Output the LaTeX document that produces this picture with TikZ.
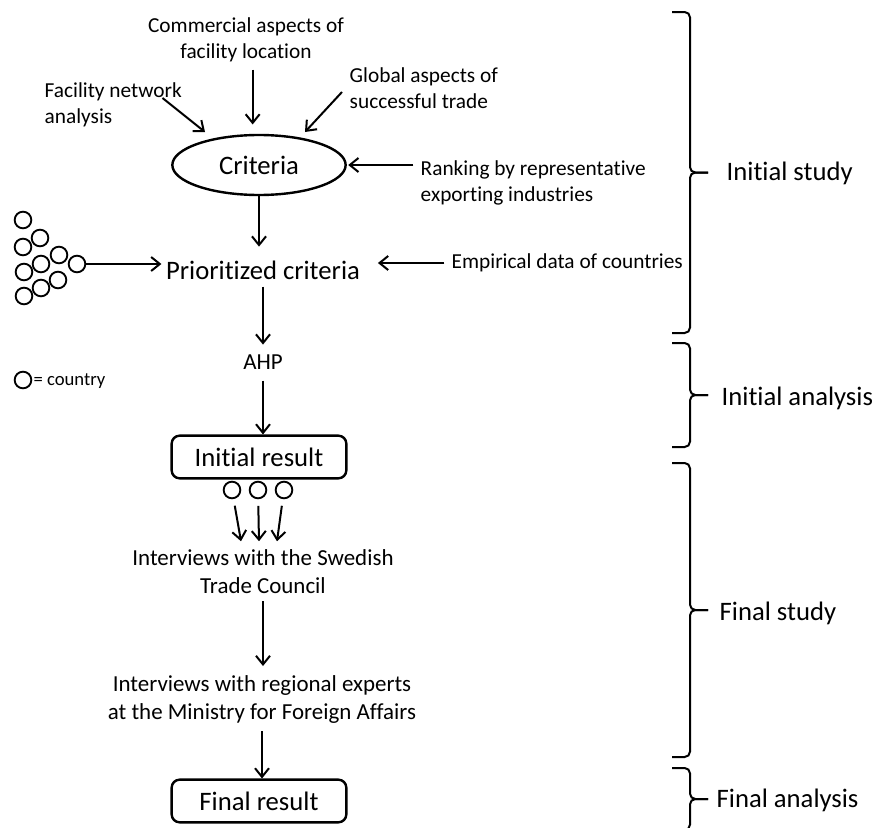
\documentclass[tikz,border=0pt]{standalone}
\usepackage{fontspec}
\setmainfont{Carlito}[Ligatures=NoCommon]
\usetikzlibrary{positioning, calc, shapes.geometric, arrows.meta}

\tikzset{
  arr/.style={line width=1.5pt, -{Straight Barb[length=6.5pt,width=10.5pt,line width=1.5pt]}},
  bigtext/.style={font=\fontsize{20}{24}\selectfont},
  midtext/.style={font=\fontsize{17.2}{21}\selectfont, align=center},
  smalltext/.style={font=\fontsize{16}{19.8}\selectfont, align=left},
  resultbox/.style={draw, line width=1.8pt, rounded corners=6pt, minimum width=131pt, minimum height=32pt, bigtext},
  country/.style={circle, draw, line width=1.4pt, minimum size=12.5pt, inner sep=0pt},
  phase/.style={line width=1.5pt, rounded corners=4pt},
  phaselabel/.style={anchor=west, bigtext},
}

\begin{document}
\begin{tikzpicture}[x=0.75pt, y=-0.75pt]
  \useasboundingbox (0,0) rectangle (882,828);

  % criteria and where they come from
  \node[smalltext, align=center] (comm) at (246,40) {Commercial aspects of\\facility location};
  \node[smalltext, anchor=west] (fac) at (40,105) {Facility network\\analysis};
  \node[smalltext, anchor=west] (glob) at (345,88) {Global aspects of\\successful trade};
  \node[ellipse, draw, line width=1.8pt, minimum width=130pt, minimum height=45pt, inner sep=0pt, bigtext] (crit) at (259,165) {Criteria};
  \node[smalltext, anchor=west] (rank) at (416,183) {Ranking by representative\\exporting industries};

  \draw[arr, shorten <=2pt, shorten >=7pt] ([xshift=5pt]comm.south) -- ([xshift=5pt]comm.south |- crit.north);
  \draw[arr] ($(fac.east)+(-24,-7)$) -- ($(crit.center)+(-54,-33)$);
  \draw[arr] ($(glob.west)+(-3,4)$) -- ($(crit.center)+(46,-33)$);
  \draw[arr, shorten <=2pt, shorten >=1pt] (rank.west |- crit.east) -- (crit.east);

  % prioritized criteria
  \node[bigtext] (prio) at (263,270) {Prioritized criteria};
  \node[smalltext, anchor=west] (emp) at (447,263) {Empirical data of countries};
  \foreach \x/\y [count=\i] in {23/220, 40/238, 23/247, 59/255, 41/264, 77/264, 24/272, 58/280, 41/288, 24/296}
    \node[country] (k\i) at (\x,\y) {};

  \draw[arr, shorten >=7pt] (crit.south) -- (crit.south |- prio.north);
  \draw[arr] (k6.east) -- (k6.east -| prio.west);
  \draw[arr, shorten <=2pt, shorten >=10pt] (emp.west) -- (emp.west -| prio.east);

  % legend
  \node[country] (leg) at (23,380) {};
  \node[anchor=west, inner sep=0pt, font=\fontsize{14}{16}\selectfont] (legtext) at ($(leg.east)+(1,1)$) {= country};

  % analysis
  \node[midtext] (ahp) at (263,362) {AHP};
  \node[resultbox] (init) at (259,457) {Initial result};
  \node[country] (r1) at (232,490) {};
  \node[country] (r2) at (258,490) {};
  \node[country] (r3) at (284,490) {};

  \draw[arr, shorten <=2pt, shorten >=4pt] (prio.south) -- (prio.south |- ahp.north);
  \draw[arr, shorten <=5pt] (ahp.south) -- (ahp.south |- init.north);

  % interviews
  \node[midtext] (swed) at (263,572) {Interviews with the Swedish\\Trade Council};
  \node[midtext] (minis) at (262,700) {Interviews with regional experts\\at the Ministry for Foreign Affairs};
  \node[resultbox] (final) at (259,801) {Final result};

  \draw[arr, shorten <=5pt] (r1) -- ($(swed.north)+(-22,-4)$);
  \draw[arr, shorten <=5pt] (r2) -- ($(swed.north)+(-4,-4)$);
  \draw[arr, shorten <=5pt] (r3) -- ($(swed.north)+(14,-4)$);
  \draw[arr, shorten <=2pt, shorten >=4pt] (swed.south) -- (swed.south |- minis.north);
  \draw[arr, shorten <=2pt] (minis.south) -- (minis.south |- final.north);

  % phases
  \foreach \top/\bot [count=\i] in {12/333, 343/447, 463/757, 768/830} {
    \coordinate (tip\i) at (708,{(\top+\bot)/2});
    \draw[phase] (672,\top) -- (690,\top) -- (690,{(\top+\bot)/2}) -- (tip\i);
    \draw[phase] (672,\bot) -- (690,\bot) -- (690,{(\top+\bot)/2}) -- (tip\i);
  }
  \node[phaselabel] (study1) at (722,173) {Initial study};
  \node[phaselabel] (anal1) at (717,398) {Initial analysis};
  \node[phaselabel] (study2) at (715,613) {Final study};
  \node[phaselabel] (anal2) at (712,800) {Final analysis};
\end{tikzpicture}
\end{document}
